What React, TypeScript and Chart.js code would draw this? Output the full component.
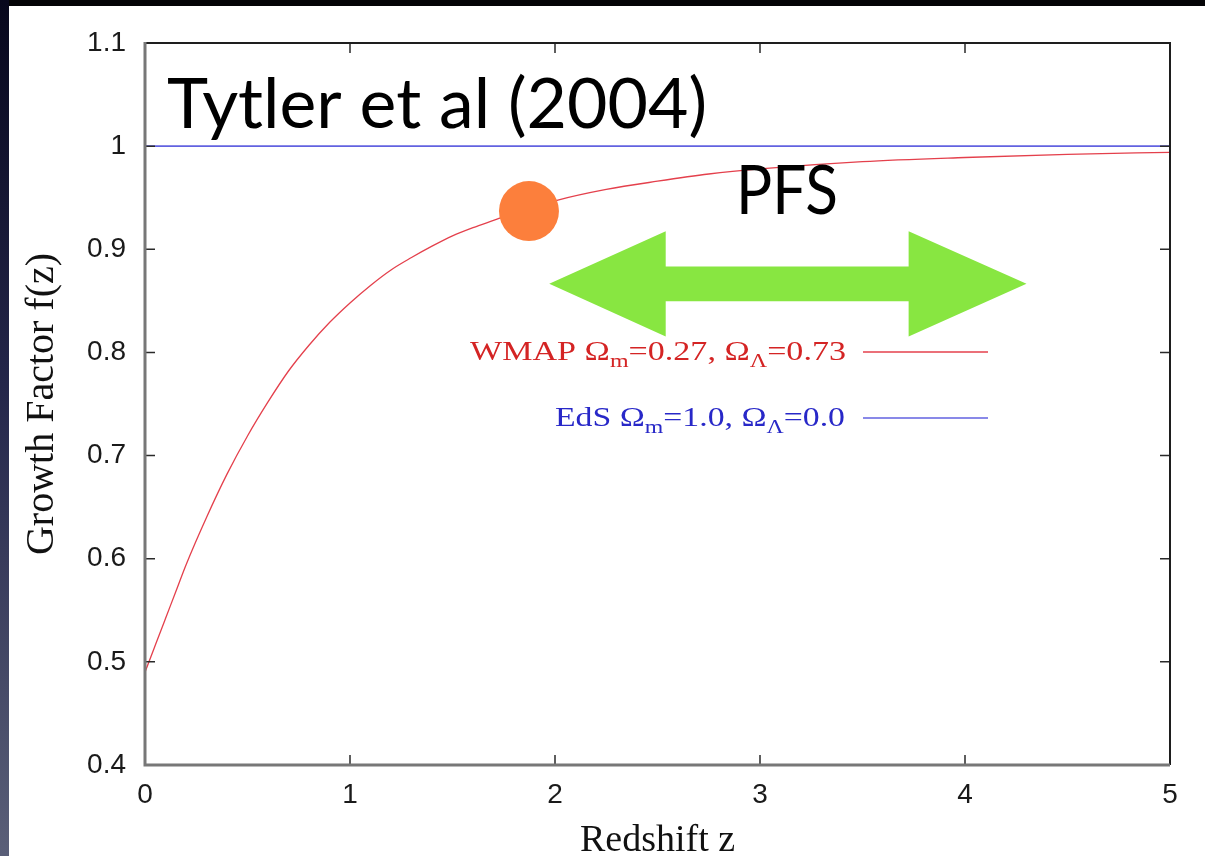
import React, { useEffect, useRef } from "react";
import { Chart, registerables } from "chart.js";

Chart.register(...registerables);

// ---- data ----
const redshift = [0, 0.05, 0.1, 0.15, 0.2, 0.3, 0.4, 0.5, 0.6, 0.7, 0.8, 0.9, 1.0, 1.1, 1.2, 1.3, 1.4, 1.5, 1.6, 1.7, 1.8, 1.9, 2.0, 2.25, 2.5, 2.75, 3.0, 3.5, 4.0, 4.5, 5.0];
const growthWMAP = [0.49, 0.516, 0.542, 0.568, 0.594, 0.64, 0.682, 0.719, 0.752, 0.782, 0.807, 0.829, 0.848, 0.865, 0.88, 0.892, 0.903, 0.913, 0.921, 0.928, 0.935, 0.941, 0.947, 0.958, 0.966, 0.973, 0.978, 0.985, 0.989, 0.992, 0.994];
const edsRedshift = [0, 5];
const growthEdS = [1.0, 1.0];
const markerRedshift = [1.873];
const markerGrowth = [0.937];
const pfsTips = [1.972, 4.3];
const pfsHeadBases = [2.54, 3.725];
const pfsLevel = [0.8665];
const xTickValues = [0, 1, 2, 3, 4, 5];
const yTickValues = [0.4, 0.5, 0.6, 0.7, 0.8, 0.9, 1.0, 1.1];
const xTitle = "Redshift z";
const yTitle = "Growth Factor f(z)";
const legendWMAP = [
  { t: "WMAP \u03A9" }, { t: "m", sub: true }, { t: "=0.27, \u03A9" }, { t: "\u039B", sub: true }, { t: "=0.73" },
];
const legendEdS = [
  { t: "EdS \u03A9" }, { t: "m", sub: true }, { t: "=1.0, \u03A9" }, { t: "\u039B", sub: true }, { t: "=0.0" },
];
const slideTitle = "Tytler et al (2004)";
const rangeLabel = "PFS";

const RED = "#e4404c";
const BLUE = "#6262e0";

type Seg = { t: string; sub?: boolean };

function drawFitted(
  ctx: CanvasRenderingContext2D,
  segs: Seg[],
  x: number,
  baseline: number,
  width: number,
  font: string,
  subFont: string,
  subDy: number,
  color: string
) {
  ctx.save();
  let natural = 0;
  for (const s of segs) {
    ctx.font = s.sub ? subFont : font;
    natural += ctx.measureText(s.t).width;
  }
  const sx = width / natural;
  ctx.translate(x, baseline);
  ctx.scale(sx, 1);
  ctx.fillStyle = color;
  ctx.textBaseline = "alphabetic";
  ctx.textAlign = "left";
  let cx = 0;
  for (const s of segs) {
    ctx.font = s.sub ? subFont : font;
    ctx.fillText(s.t, cx, s.sub ? subDy : 0);
    cx += ctx.measureText(s.t).width;
  }
  ctx.restore();
}

export default function App() {
  const ref = useRef<HTMLCanvasElement>(null);

  useEffect(() => {
    const canvas = ref.current;
    if (!canvas) return;

    const overlay = {
      id: "overlay",
      afterDatasetsDraw(chart: any) {
        const ctx: CanvasRenderingContext2D = chart.ctx;
        const xs = chart.scales.x;
        const ys = chart.scales.y;
        // PFS double arrow (data units)
        const L = pfsLevel[0];
        const H = 0.0511;
        const S = 0.0168;
        const pts: [number, number][] = [
          [pfsTips[0], L],
          [pfsHeadBases[0], L + H],
          [pfsHeadBases[0], L + S],
          [pfsHeadBases[1], L + S],
          [pfsHeadBases[1], L + H],
          [pfsTips[1], L],
          [pfsHeadBases[1], L - H],
          [pfsHeadBases[1], L - S],
          [pfsHeadBases[0], L - S],
          [pfsHeadBases[0], L - H],
        ];
        ctx.save();
        ctx.beginPath();
        pts.forEach(([zx, fy], i) => {
          const px = xs.getPixelForValue(zx);
          const py = ys.getPixelForValue(fy);
          if (i === 0) ctx.moveTo(px, py);
          else ctx.lineTo(px, py);
        });
        ctx.closePath();
        ctx.fillStyle = "#88e641";
        ctx.fill();
        ctx.restore();

        // slide texts
        drawFitted(ctx, [{ t: slideTitle }], 158, 122, 540, "70px Lato", "70px Lato", 0, "#000");
        drawFitted(ctx, [{ t: rangeLabel }], 727, 208, 102, "68px Lato", "68px Lato", 0, "#000");

        // legend
        drawFitted(ctx, legendWMAP, 461, 354, 376, "27px 'Liberation Serif'", "19px 'Liberation Serif'", 7, "#d42424");
        drawFitted(ctx, legendEdS, 546, 420, 290, "27px 'Liberation Serif'", "19px 'Liberation Serif'", 7, "#2828c8");
        ctx.save();
        ctx.lineWidth = 1.3;
        ctx.strokeStyle = RED;
        ctx.beginPath();
        ctx.moveTo(854, 346);
        ctx.lineTo(979, 346);
        ctx.stroke();
        ctx.strokeStyle = BLUE;
        ctx.beginPath();
        ctx.moveTo(854, 412);
        ctx.lineTo(979, 412);
        ctx.stroke();
        ctx.restore();
      },
      afterDraw(chart: any) {
        const ctx: CanvasRenderingContext2D = chart.ctx;
        const { left, right, top, bottom } = chart.chartArea;
        const xs = chart.scales.x;
        const ys = chart.scales.y;
        ctx.save();
        ctx.strokeStyle = "#2a2a2a";
        ctx.lineWidth = 1.5;
        ctx.beginPath();
        yTickValues.forEach((v) => {
          const y = ys.getPixelForValue(v);
          ctx.moveTo(left, y);
          ctx.lineTo(left + 10, y);
          ctx.moveTo(right - 10, y);
          ctx.lineTo(right, y);
        });
        xTickValues.forEach((v) => {
          const x = xs.getPixelForValue(v);
          ctx.moveTo(x, bottom);
          ctx.lineTo(x, bottom - 10);
          ctx.moveTo(x, top);
          ctx.lineTo(x, top + 10);
        });
        ctx.stroke();
        // frame
        ctx.strokeStyle = "#1e1e1e";
        ctx.lineWidth = 2;
        ctx.beginPath();
        ctx.moveTo(left, top);
        ctx.lineTo(right, top);
        ctx.lineTo(right, bottom);
        ctx.stroke();
        ctx.strokeStyle = "#777";
        ctx.lineWidth = 3;
        ctx.beginPath();
        ctx.moveTo(left, top - 1);
        ctx.lineTo(left, bottom);
        ctx.lineTo(right, bottom);
        ctx.stroke();
        ctx.restore();
      },
    };

    const chart = new Chart(canvas, {
      type: "scatter",
      data: {
        datasets: [
          {
            label: "WMAP",
            data: redshift.map((z, i) => ({ x: z, y: growthWMAP[i] })),
            showLine: true,
            borderColor: RED,
            borderWidth: 1.3,
            pointRadius: 0,
            cubicInterpolationMode: "monotone",
            order: 3,
          },
          {
            label: "EdS",
            data: edsRedshift.map((z, i) => ({ x: z, y: growthEdS[i] })),
            showLine: true,
            borderColor: BLUE,
            borderWidth: 1.6,
            pointRadius: 0,
            order: 2,
          },
          {
            label: "marker",
            data: markerRedshift.map((z, i) => ({ x: z, y: markerGrowth[i] })),
            pointRadius: 30,
            pointHoverRadius: 30,
            backgroundColor: "#fc7f3c",
            borderWidth: 0,
            order: 1,
          },
        ],
      },
      options: {
        responsive: false,
        animation: false,
        devicePixelRatio: 1,
        layout: { padding: { top: 37, right: 35, left: 0, bottom: 0 } },
        plugins: { legend: { display: false }, tooltip: { enabled: false } },
        scales: {
          x: {
            type: "linear",
            min: 0,
            max: 5,
            afterBuildTicks: (s: any) => {
              s.ticks = xTickValues.map((v) => ({ value: v }));
            },
            afterFit: (s: any) => {
              s.height = 91;
            },
            ticks: {
              font: { family: "'Liberation Sans'", size: 28 },
              color: "#1a1a1a",
              padding: 13,
              maxRotation: 0,
            },
            grid: { display: false, drawTicks: false },
            border: { display: false },
            title: {
              display: true,
              text: xTitle,
              color: "#111",
              font: { family: "'Liberation Serif'", size: 38, lineHeight: 0.8 },
              padding: { top: 0, bottom: 0 },
            },
          },
          y: {
            type: "linear",
            min: 0.4,
            max: 1.1,
            afterBuildTicks: (s: any) => {
              s.ticks = yTickValues.map((v) => ({ value: v }));
            },
            afterFit: (s: any) => {
              s.width = 136;
            },
            ticks: {
              font: { family: "'Liberation Sans'", size: 28 },
              color: "#1a1a1a",
              padding: 19,
              callback: (v: any) => String(Number(Number(v).toFixed(1))),
            },
            grid: { display: false, drawTicks: false },
            border: { display: false },
            title: {
              display: true,
              text: yTitle,
              color: "#111",
              font: { family: "'Liberation Serif'", size: 40, lineHeight: 1.2 },
              padding: { top: 9, bottom: 0 },
            },
          },
        },
      },
      plugins: [overlay],
    } as any);

    return () => chart.destroy();
  }, []);

  return (
    <div
      style={{
        position: "fixed",
        left: 0,
        top: 0,
        width: 1205,
        height: 856,
        background: "#040406",
        overflow: "hidden",
      }}
    >
      <div
        style={{
          position: "absolute",
          left: 0,
          top: 0,
          width: 9,
          height: 856,
          background: "linear-gradient(#07071c, #24264a 45%, #5a5f78)",
        }}
      />
      <canvas
        ref={ref}
        width={1196}
        height={850}
        style={{ position: "absolute", left: 9, top: 6, width: 1196, height: 850, background: "#fff" }}
      />
    </div>
  );
}
